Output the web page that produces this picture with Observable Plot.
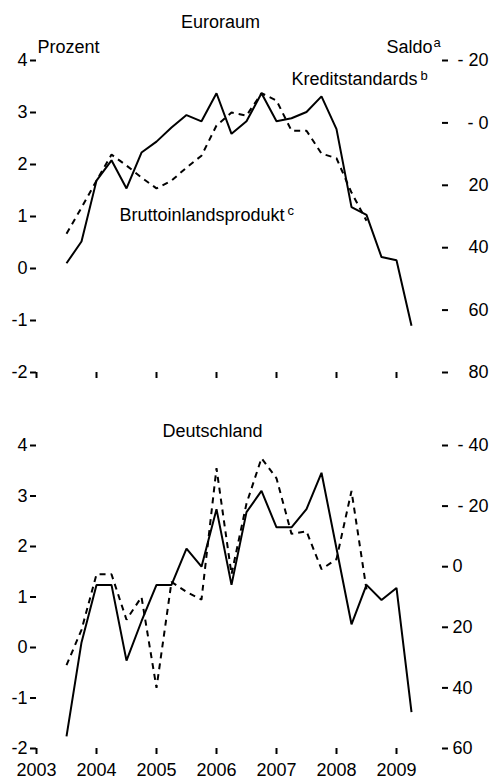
<!DOCTYPE html>
<html><head><meta charset="utf-8">
<script src="https://cdn.jsdelivr.net/npm/d3@7"></script>
<script src="https://cdn.jsdelivr.net/npm/@observablehq/plot@0.6"></script>
<style>body{margin:0;background:#fff} #chart svg{display:block}</style>
</head><body><div id="chart"></div>
<script>
// ---- data ----
const quartersKredit = ["2003Q3","2003Q4","2004Q1","2004Q2","2004Q3","2004Q4","2005Q1","2005Q2","2005Q3","2005Q4","2006Q1","2006Q2","2006Q3","2006Q4","2007Q1","2007Q2","2007Q3","2007Q4","2008Q1","2008Q2","2008Q3","2008Q4","2009Q1","2009Q2"];
const quartersBip = ["2003Q3","2003Q4","2004Q1","2004Q2","2004Q3","2004Q4","2005Q1","2005Q2","2005Q3","2005Q4","2006Q1","2006Q2","2006Q3","2006Q4","2007Q1","2007Q2","2007Q3","2007Q4","2008Q1","2008Q2","2008Q3"];
// Kreditstandards (Saldo, right axis, inverted)
const euroKredit = [45, 38, 18.5, 12, 21, 9.5, 6, 1.5, -2.5, -0.5, -9.5, 3.5, -0.5, -9.5, -0.5, -1.5, -3.5, -8.5, 2, 27, 29.5, 43, 44, 65];
const deKredit = [56, 25, 6, 6, 31, 18, 6, 6, -6, 0, -19, 6, -18, -25, -13, -13, -19, -31, -6, 19, 6, 11, 7, 48];
// Bruttoinlandsprodukt (Prozent, left axis)
const euroBip = [0.67, 1.17, 1.69, 2.19, 1.98, 1.75, 1.54, 1.69, 1.94, 2.17, 2.75, 3.0, 2.94, 3.37, 3.23, 2.65, 2.65, 2.21, 2.12, 1.46, 0.92];
const deBip = [-0.35, 0.35, 1.45, 1.45, 0.55, 1.0, -0.8, 1.3, 1.1, 0.95, 3.55, 1.45, 2.85, 3.75, 3.35, 2.25, 2.3, 1.55, 1.75, 3.1, 1.15];
// axes
const leftDomain = [-2, 4];
const leftTicks = [-2, -1, 0, 1, 2, 3, 4];
const yearTicks = [2003, 2004, 2005, 2006, 2007, 2008, 2009];
const euroRightDomain = [-20, 80];
const euroRightTicks = [-20, 0, 20, 40, 60, 80];
const euroRightLabels = ["- 20", "- 0", "20", "40", "60", "80"];
const deRightDomain = [-40, 60];
const deRightTicks = [-40, -20, 0, 20, 40, 60];
const deRightLabels = ["- 40", "- 20", "0", "20", "40", "60"];
const titleEuro = "Euroraum";
const titleDe = "Deutschland";
const unitLeft = "Prozent";
const unitRight = "Saldo";
const labelKredit = "Kreditstandards";
const labelBip = "Bruttoinlandsprodukt";

// ---- font pick ----
function hasFont(name) {
  const c = document.createElement("canvas").getContext("2d");
  const t = "Bruttoinlandsprodukt 2003";
  c.font = "40px monospace"; const a = c.measureText(t).width;
  c.font = `40px "${name}", monospace`; const b = c.measureText(t).width;
  return Math.abs(a - b) > 0.5;
}
const narrow = hasFont("Liberation Sans Narrow");
const FF = narrow ? '"Liberation Sans Narrow", "Liberation Sans", Arial, sans-serif' : '"Liberation Sans", Arial, sans-serif';
const FS = narrow ? 21 : 18;
const SUP = narrow ? 16 : 13;

const qx = q => +q.slice(0, 4) + (+q.slice(5) - 1) / 4;

function panel(o) {
  const toLeft = s => leftDomain[1] - (s - o.rDomain[0]) / (o.rDomain[1] - o.rDomain[0]) * (leftDomain[1] - leftDomain[0]);
  const kData = quartersKredit.map((q, i) => ({x: qx(q), y: toLeft(o.kredit[i])}));
  const bData = quartersBip.map((q, i) => ({x: qx(q), y: o.bip[i]}));
  const rTicksLeft = o.rTicks.map(toLeft);
  const fmtR = d => {
    const i = rTicksLeft.findIndex(t => Math.abs(t - d) < 1e-9);
    const l = o.rLabels[i];
    return o.padNeg && l.startsWith("-") ? "\u00a0" + l : l;
  };
  return Plot.plot({
    width: 494, height: o.height,
    marginTop: o.mt, marginBottom: o.mb, marginLeft: 36, marginRight: 53,
    x: {domain: [2003, 2009.75]},
    y: {domain: leftDomain},
    style: {fontFamily: FF, fontSize: FS + "px", background: "white", color: "black"},
    marks: [
      Plot.axisY(leftTicks, {anchor: "left", tickSize: 6, tickPadding: 3, strokeWidth: 2, tickFormat: d => String(d), label: null}),
      Plot.axisY(rTicksLeft, {anchor: "right", tickSize: 6, tickPadding: o.rPad, textAnchor: o.rAnchor, strokeWidth: 2, tickFormat: fmtR, label: null}),
      Plot.axisX(yearTicks, {anchor: "bottom", tickSize: 6, tickPadding: 9, strokeWidth: 2, tickFormat: o.xLabels ? (d => String(d)) : (() => ""), label: null}),
      Plot.line(bData, {x: "x", y: "y", stroke: "black", strokeWidth: 2, strokeDasharray: "6,5", strokeLinejoin: "miter", strokeLinecap: "butt"}),
      Plot.line(kData, {x: "x", y: "y", stroke: "black", strokeWidth: 2, strokeLinejoin: "miter", strokeLinecap: "butt"}),
      ...o.texts
    ]
  });
}

const T = (txt, opts) => Plot.text([txt], {text: d => d, lineAnchor: "bottom", fill: "black", ...opts});

const euroPanel = panel({
  height: 390, mt: 60, mb: 18,
  kredit: euroKredit, bip: euroBip,
  rDomain: euroRightDomain, rTicks: euroRightTicks, rLabels: euroRightLabels,
  rPad: 41, rAnchor: "end", padNeg: false, xLabels: false,
  texts: [
    T(titleEuro, {frameAnchor: "top", dx: -18.5, dy: -33}),
    T(unitLeft, {frameAnchor: "top-left", textAnchor: "start", dx: 1, dy: -8}),
    T(unitRight, {frameAnchor: "top-right", textAnchor: "end", dx: -9, dy: -8}),
    T("a", {frameAnchor: "top-right", textAnchor: "start", dx: -8, dy: -14, fontSize: SUP}),
    T(labelKredit, {frameAnchor: "top-right", textAnchor: "end", dx: -24, dy: 24}),
    T("b", {frameAnchor: "top-right", textAnchor: "start", dx: -21, dy: 19, fontSize: SUP}),
    T(labelBip, {frameAnchor: "top-left", textAnchor: "end", dx: 248, dy: 160}),
    T("c", {frameAnchor: "top-left", textAnchor: "start", dx: 251, dy: 154, fontSize: SUP})
  ]
});

const dePanel = panel({
  height: 392, mt: 55, mb: 34,
  kredit: deKredit, bip: deBip,
  rDomain: deRightDomain, rTicks: deRightTicks, rLabels: deRightLabels,
  rPad: 5, rAnchor: "start", padNeg: true, xLabels: true,
  texts: [
    T(titleDe, {frameAnchor: "top", dx: -26.5, dy: -9})
  ]
});

document.getElementById("chart").append(euroPanel, dePanel);
</script>
</body></html>
